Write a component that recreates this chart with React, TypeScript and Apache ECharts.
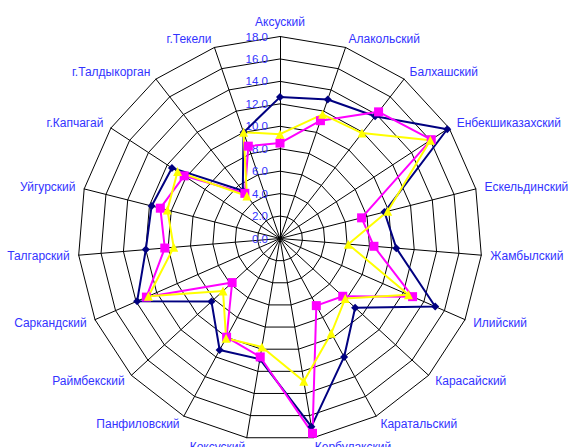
import React, { useEffect, useRef } from "react";
import * as echarts from "echarts";

const categories = [
  "Аксуский", "Алакольский", "Балхашский", "Енбекшиказахский", "Ескельдинский",
  "Жамбылский", "Илийский", "Карасайский", "Каратальский", "Кербулакский",
  "Коксуский", "Панфиловский", "Раймбекский", "Саркандский", "Талгарский",
  "Уйгурский", "г.Капчагай", "г.Талдыкорган", "г.Текели",
];

const navySeries = [12.6, 13.1, 13.8, 17.8, 9.6, 10.4, 15.1, 9.1, 12.0, 17.0, 10.9, 11.3, 8.3, 13.9, 12.0, 11.8, 11.5, 5.4, 10.0];
const magentaSeries = [8.5, 11.1, 14.3, 16.1, 7.5, 8.4, 12.9, 7.6, 6.8, 17.6, 10.7, 10.0, 5.8, 13.0, 10.3, 11.0, 10.2, 5.1, 8.7];
const yellowSeries = [9.3, 11.7, 11.9, 16.0, 9.9, 6.1, 12.5, 7.9, 9.6, 12.9, 9.8, 10.1, 6.9, 12.8, 9.5, 10.35, 10.9, 4.8, 10.0];

const axisMin = 0;
const axisMax = 18;
const axisSplits = 9;

const FONT = "Liberation Sans, Arial, sans-serif";
const BLUE = "#3333FF";

// ECharts radar lays indicators out counter-clockwise; reorder so they run clockwise.
function clockwise<T>(arr: T[]): T[] {
  return [arr[0], ...arr.slice(1).reverse()];
}

export default function App() {
  const ref = useRef<HTMLDivElement>(null);
  useEffect(() => {
    if (!ref.current) return;
    const chart = echarts.init(ref.current, null, { renderer: "svg" });
    const indicator = clockwise(categories).map((name, i) => {
      const ind: any = { name, min: axisMin, max: axisMax };
      if (i === 0) {
        ind.axisLabel = {
          show: true,
          color: BLUE,
          fontSize: 11.5,
          fontFamily: FONT,
          margin: 12,
          formatter: (v: number) => v.toFixed(1),
        };
      }
      return ind;
    });
    chart.setOption({
      animation: false,
      backgroundColor: "#ffffff",
      radar: {
        center: [280, 238.5],
        radius: 202,
        startAngle: 90,
        shape: "polygon",
        splitNumber: axisSplits,
        indicator,
        axisName: { color: BLUE, fontSize: 12, fontFamily: FONT },
        nameGap: 9,
        axisLine: { show: true, lineStyle: { color: "#000000", width: 1 } },
        splitLine: { show: true, lineStyle: { color: "#000000", width: 1 } },
        splitArea: { show: false },
        axisTick: { show: false },
        axisLabel: { show: false },
      },
      series: [
        {
          type: "radar",
          data: [
            {
              value: clockwise(navySeries),
              symbol: "diamond",
              symbolSize: 8,
              lineStyle: { color: "#000080", width: 2 },
              itemStyle: { color: "#000080" },
            },
            {
              value: clockwise(magentaSeries),
              symbol: "rect",
              symbolSize: 9,
              lineStyle: { color: "#FF00FF", width: 2 },
              itemStyle: { color: "#FF00FF" },
            },
            {
              value: clockwise(yellowSeries),
              symbol: "triangle",
              symbolSize: 9,
              lineStyle: { color: "#FFFF00", width: 2 },
              itemStyle: { color: "#FFFF00" },
            },
          ],
        },
      ],
    });
    return () => chart.dispose();
  }, []);
  return (
    <div
      ref={ref}
      style={{ position: "fixed", left: 0, top: 0, width: 568, height: 447 }}
    />
  );
}
